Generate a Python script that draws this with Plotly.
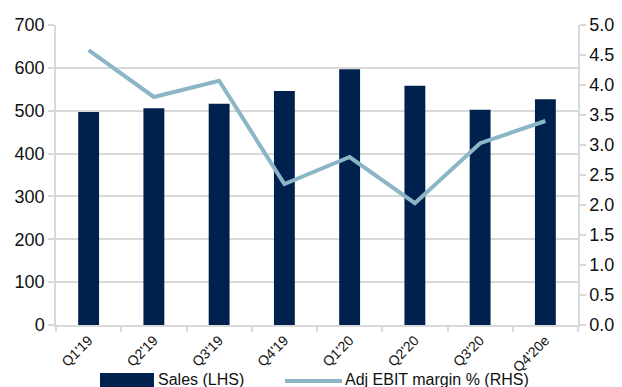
import plotly.graph_objects as go

quarters = ["Q1'19", "Q2'19", "Q3'19", "Q4'19", "Q1'20", "Q2'20", "Q3'20", "Q4'20e"]
sales = [497, 506, 516, 546, 597, 558, 502, 527]
ebit_margin = [4.58, 3.80, 4.07, 2.35, 2.80, 2.03, 3.03, 3.40]

left_ticks = [0, 100, 200, 300, 400, 500, 600, 700]
right_ticks = [0, 0.5, 1.0, 1.5, 2.0, 2.5, 3.0, 3.5, 4.0, 4.5, 5.0]

sales_name = "Sales (LHS)"
margin_name = "Adj EBIT margin % (RHS)"

NAVY = "#00204E"
LINE = "#8BB6C6"
GRID = "#D9D9D9"
TEXT = "#111111"
FONT = "Liberation Sans, Arial, sans-serif"

fig = go.Figure()
fig.add_trace(go.Bar(
    x=quarters, y=sales, name=sales_name,
    marker=dict(color=NAVY, line=dict(width=0)),
    yaxis="y", showlegend=False,
))
fig.add_trace(go.Scatter(
    x=quarters, y=ebit_margin, name=margin_name,
    mode="lines", line=dict(color=LINE, width=4),
    yaxis="y2", showlegend=False,
))

# legend drawn below the plot: wide swatches next to the series names
legend_y = -0.183
fig.add_shape(type="rect", xref="paper", yref="paper",
              x0=0.0843, x1=0.1877, y0=-0.2067, y1=-0.16,
              fillcolor=NAVY, line=dict(width=0), layer="above")
fig.add_shape(type="line", xref="paper", yref="paper",
              x0=0.4387, x1=0.5479, y0=-0.1867, y1=-0.1867,
              line=dict(color=LINE, width=4), layer="above")
fig.add_annotation(text=sales_name, xref="paper", yref="paper",
                   x=0.1954, y=legend_y, xanchor="left", yanchor="middle",
                   showarrow=False, font=dict(size=16, color=TEXT), xshift=-2)
fig.add_annotation(text=margin_name, xref="paper", yref="paper",
                   x=0.5536, y=legend_y, xanchor="left", yanchor="middle",
                   showarrow=False, font=dict(size=16, color=TEXT), xshift=-2)

fig.update_layout(
    width=622, height=387,
    margin=dict(l=56, r=44, t=25, b=62, autoexpand=False),
    paper_bgcolor="white", plot_bgcolor="white",
    font=dict(family=FONT, color=TEXT),
    bargap=0.68,
    xaxis=dict(
        type="category", tickangle=-45, tickson="boundaries",
        ticks="outside", ticklen=5, tickcolor=GRID, tickwidth=1.5,
        showline=True, linecolor=GRID, linewidth=1.5,
        showgrid=False, tickfont=dict(size=14),
    ),
    yaxis=dict(
        range=[0, 700], tickvals=left_ticks,
        ticks="outside", ticklen=6, tickcolor=GRID, tickwidth=1.5,
        showline=True, linecolor=GRID, linewidth=1.5,
        gridcolor=GRID, gridwidth=1.5, zeroline=False,
        tickfont=dict(size=18),
    ),
    yaxis2=dict(
        range=[0, 5], tickvals=right_ticks, tickformat=".1f",
        overlaying="y", side="right",
        ticks="outside", ticklen=6, tickcolor=GRID, tickwidth=1.5,
        showline=True, linecolor=GRID, linewidth=1.5,
        showgrid=False, zeroline=False,
        tickfont=dict(size=18),
    ),
)

fig.write_html("out.html")
